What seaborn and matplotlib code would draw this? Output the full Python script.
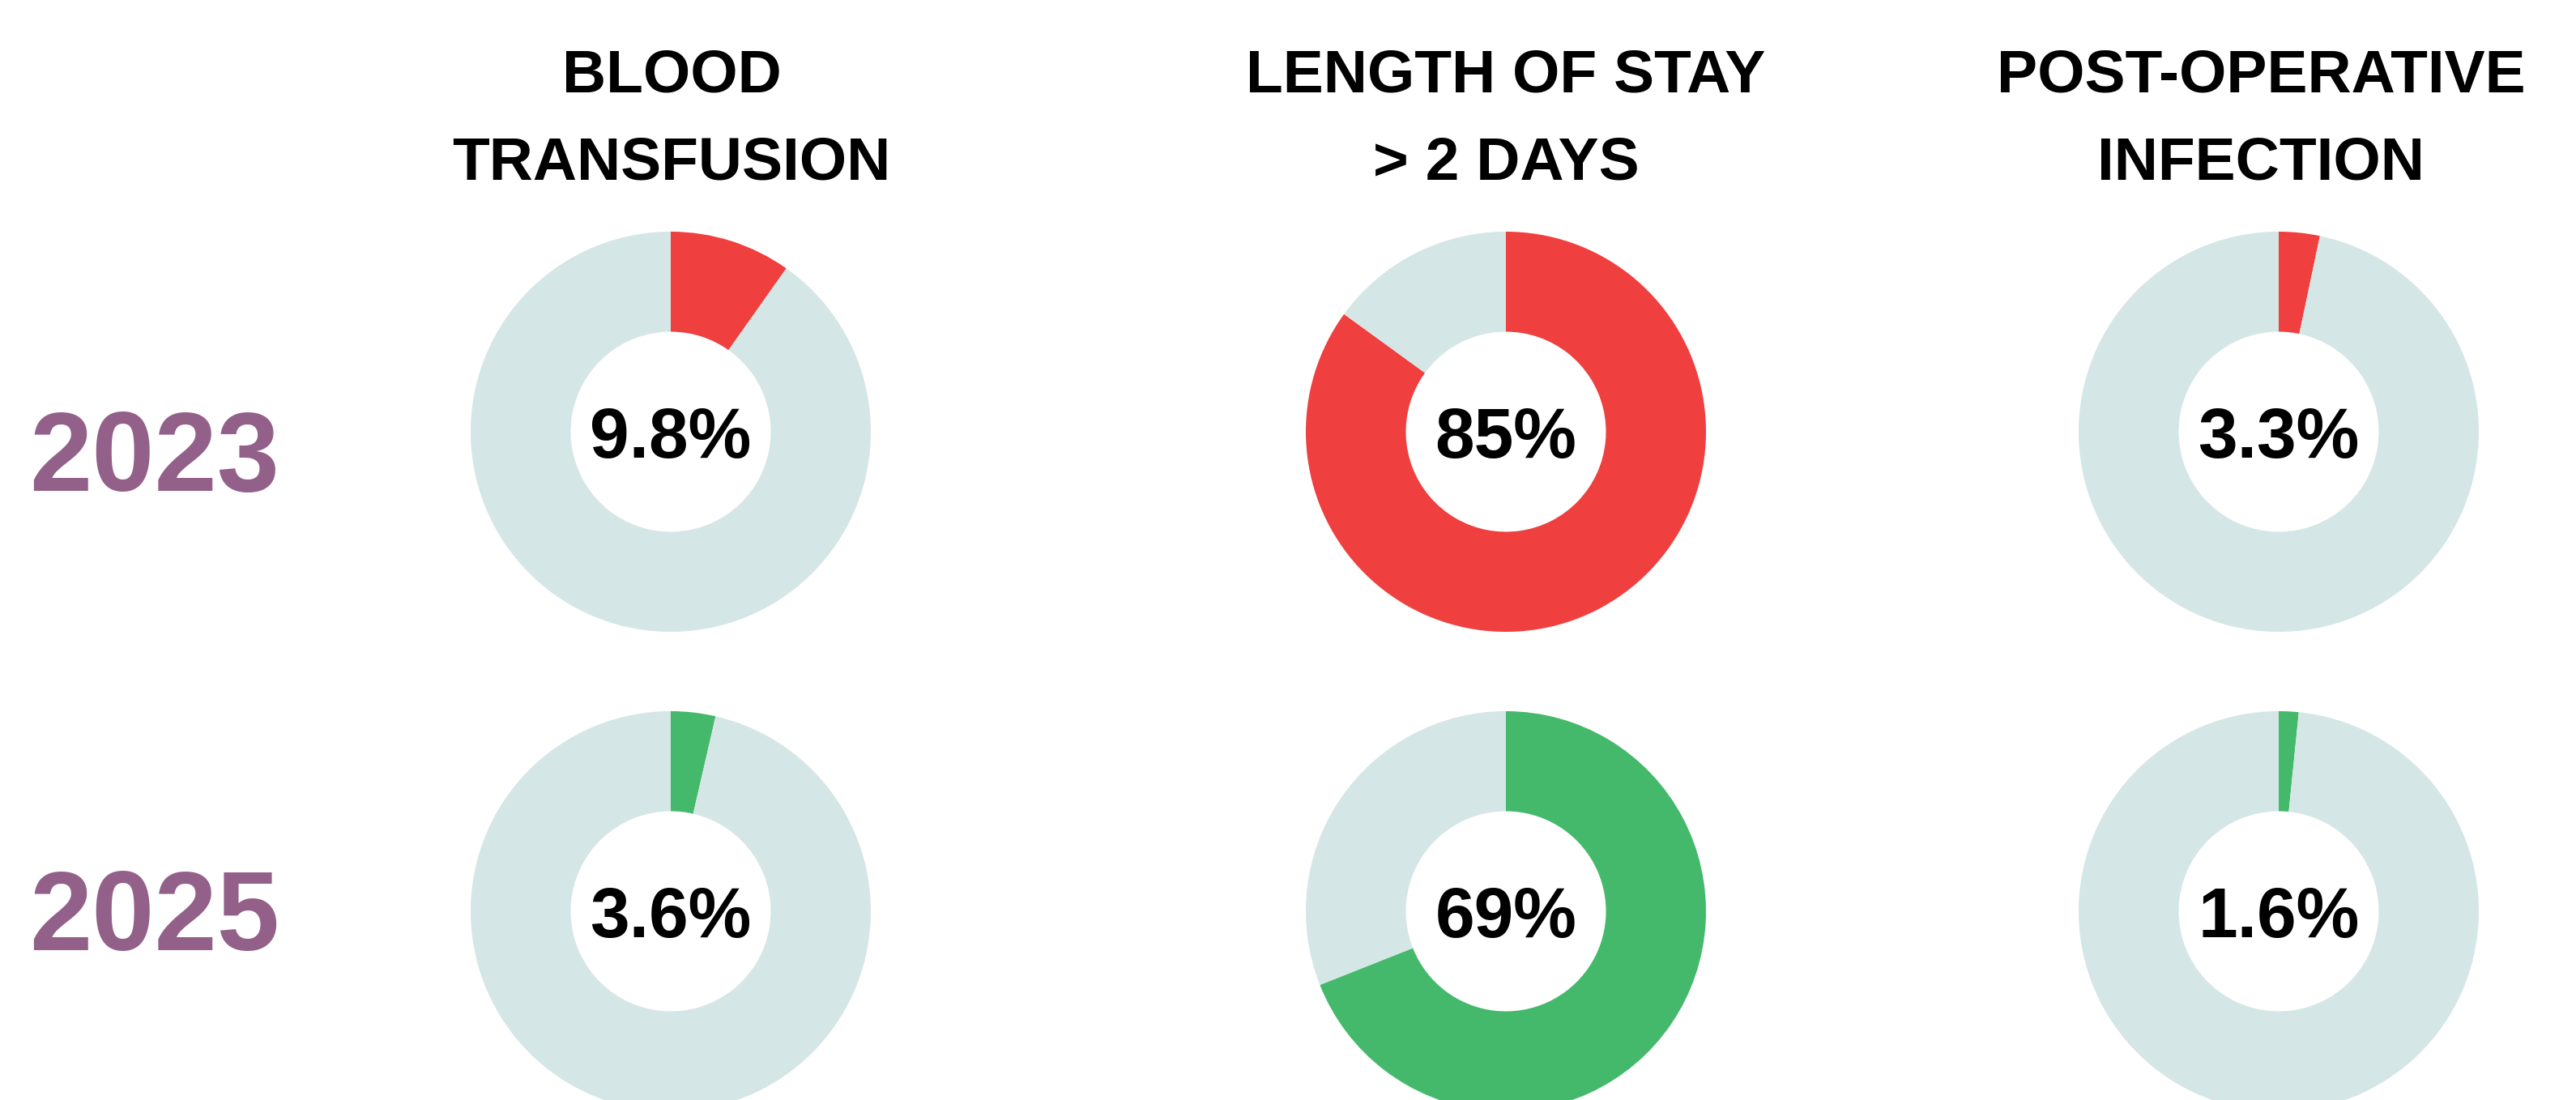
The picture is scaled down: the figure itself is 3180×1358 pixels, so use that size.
import matplotlib
matplotlib.use("Agg")
import matplotlib.pyplot as plt
import seaborn as sns

# ---- data ----
titles = ["BLOOD\nTRANSFUSION", "LENGTH OF STAY\n> 2 DAYS", "POST-OPERATIVE\nINFECTION"]
years = ["2023", "2025"]
values_2023 = [9.8, 85, 3.3]
values_2025 = [3.6, 69, 1.6]
labels_2023 = ["9.8%", "85%", "3.3%"]
labels_2025 = ["3.6%", "69%", "1.6%"]

sns.set_theme(style="white")
plt.rcParams['font.family'] = ['Liberation Sans', 'DejaVu Sans']

RED = "#EF3F3F"
GREEN = "#45B96B"
REST = "#D4E6E5"
PURPLE = "#93608A"

W, H = 3180, 1358
fig = plt.figure(figsize=(W / 100, H / 100), dpi=100)
fig.patch.set_facecolor("white")

col_x = [828, 1859, 2813]
row_y = [533, 1125]
title_x = [829, 1859, 2791]
R = 247

rows = [(values_2023, labels_2023, RED), (values_2025, labels_2025, GREEN)]

for ri, (vals, labs, col) in enumerate(rows):
    for ci in range(3):
        cx, cy = col_x[ci], row_y[ri]
        ax = fig.add_axes([(cx - R) / W, (H - cy - R) / H, 2 * R / W, 2 * R / H])
        v = vals[ci]
        ax.pie([v, 100 - v], colors=[col, REST], startangle=90, counterclock=False,
               radius=1.0, wedgeprops=dict(width=0.5, linewidth=0))
        ax.set_xlim(-1, 1)
        ax.set_ylim(-1, 1)
        ax.set_aspect("equal")
        ax.axis("off")
        ax.text(0, 0, labs[ci], ha="center", va="center_baseline", fontsize=63,
                fontweight="bold", color="black")

# column titles
for ci, t in enumerate(titles):
    l1, l2 = t.split("\n")
    fig.text(title_x[ci] / W, 1 - 87 / H, l1, ha="center", va="center_baseline",
             fontsize=54, fontweight="bold", color="black")
    fig.text(title_x[ci] / W, 1 - 194 / H, l2, ha="center", va="center_baseline",
             fontsize=54, fontweight="bold", color="black")

# year labels
year_y = [556, 1122]
for ri, y in enumerate(years):
    fig.text(191 / W, 1 - year_y[ri] / H, y, ha="center", va="center_baseline",
             fontsize=100, fontweight="bold", color=PURPLE)

fig.savefig("out.png", dpi=100, facecolor="white")
